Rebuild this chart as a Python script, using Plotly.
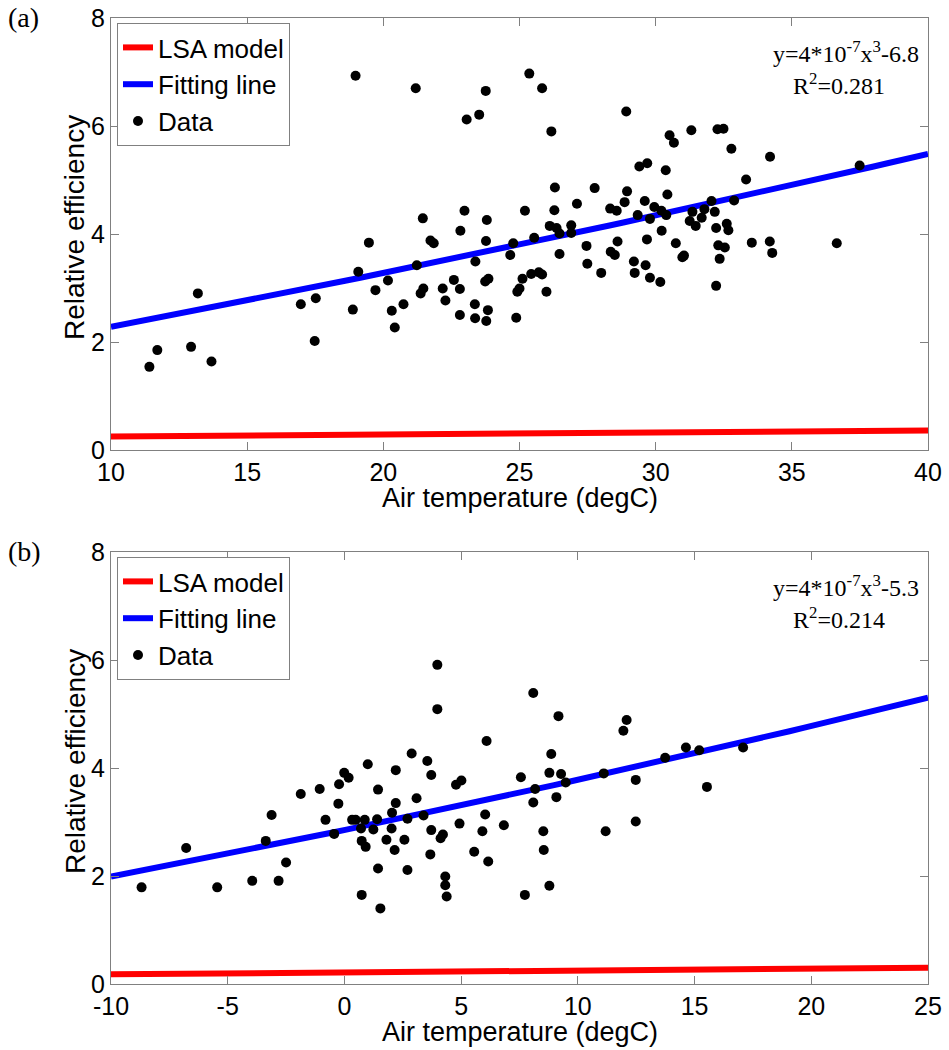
import numpy as np
import plotly.graph_objects as go

# ---- Panel (a): air temperature 10-40 degC ----
temp_a = [11.41, 11.70, 12.94, 13.69, 13.19, 16.97, 17.52, 17.48, 18.88, 19.08, 19.47, 19.71,
          18.98, 21.19, 23.76, 25.36, 25.83,
          23.06, 23.52, 26.17, 28.92, 29.40, 29.69, 26.30, 27.76, 28.95, 28.86, 29.60, 27.11,
          26.28, 25.20, 22.98, 21.45, 23.80, 22.83, 28.33, 28.57, 29.34, 29.79, 21.73, 21.85,
          23.77, 24.77, 25.54, 26.11, 26.36, 26.47, 26.90, 26.90, 27.46, 28.60, 28.35, 28.50,
          26.47, 24.66, 23.38, 21.23, 27.49, 28.00, 29.20, 29.63, 29.23, 29.79, 20.17, 20.74,
          20.31, 20.42, 21.47, 21.37, 22.18, 22.59, 22.81, 22.28, 22.81, 23.36, 23.37, 23.84,
          23.78, 23.74, 23.86, 24.88, 24.92, 25.00, 25.11, 25.43, 25.71, 25.83, 25.99, 29.68,
          30.51, 30.67, 31.31, 32.27, 32.49, 32.78, 34.20, 37.49, 30.37, 33.32, 30.43, 29.95,
          30.21, 30.39, 31.35, 31.25, 31.47, 31.79, 31.69, 32.05, 32.17, 32.88, 32.22, 32.61,
          32.67, 30.22, 30.74, 32.30, 32.54, 33.53, 34.19, 34.28, 36.65, 30.98, 31.04, 32.35,
          30.17, 32.22]
eff_a = [1.54, 1.85, 1.91, 1.64, 2.90, 2.70, 2.81, 2.02, 2.60, 3.30, 3.84, 2.96,
         6.93, 6.70, 6.65, 6.97, 6.70,
         6.12, 6.21, 5.90, 6.27, 5.25, 5.31, 4.86, 4.85, 4.79, 4.59, 4.61, 4.56,
         4.44, 4.43, 4.43, 4.29, 4.26, 4.06, 4.47, 4.43, 4.35, 4.28, 3.88, 3.83,
         3.87, 3.83, 3.93, 4.15, 4.11, 4.01, 4.16, 4.02, 3.78, 3.86, 3.67, 3.61,
         3.63, 3.61, 3.49, 3.42, 3.45, 3.28, 3.49, 3.42, 3.28, 3.19, 3.14, 2.70,
         2.58, 2.27, 2.99, 2.90, 2.99, 3.15, 2.98, 2.77, 2.50, 2.70, 2.44, 2.59,
         2.39, 3.12, 3.17, 2.45, 2.93, 2.99, 3.17, 3.26, 3.29, 3.25, 2.93, 3.90,
         5.83, 5.69, 5.92, 5.94, 5.95, 5.58, 5.43, 5.27, 5.18, 5.01, 4.73, 4.50,
         4.43, 4.35, 4.41, 4.24, 4.15, 4.46, 4.30, 4.61, 4.41, 4.62, 4.11, 4.19,
         4.07, 4.06, 3.83, 3.79, 3.75, 3.84, 3.86, 3.65, 3.83, 3.57, 3.60, 3.54,
         3.11, 3.04]
lsa_a_x = [10, 40]
lsa_a_y = [0.25, 0.36]
fit_a_coef, fit_a_const = 4e-7, -6.8

# ---- Panel (b): air temperature -10-25 degC ----
temp_b = [-8.69, -6.78, -5.45, -3.95, -3.37, -3.12, -2.82, -2.50, -1.87, -1.06, -0.81, -0.44,
          -0.26, -0.23, -0.01, 0.18, 1.00, 0.33, 0.48, 0.71, 0.87, 0.74, 0.91, 0.74, 1.24,
          1.44, 1.44, 1.54, 1.40,
          2.20, 2.04, 2.20, 2.02, 1.80, 2.15, 2.57, 2.70, 2.70, 2.88, 3.09, 3.39, 3.55, 3.72,
          3.72, 3.68, 3.98, 3.98, 4.12, 4.22, 4.32, 4.32, 4.38, 4.78, 5.01, 4.93, 5.56, 5.91,
          6.03, 6.09, 6.16, 6.83, 7.56, 7.73, 8.09, 8.17, 8.09, 8.52, 8.54, 8.78, 8.86, 8.78,
          9.17, 9.28, 9.48, 9.08, 11.11, 11.19, 11.95, 12.09, 12.48, 12.48,
          13.74, 14.63, 15.20, 15.53, 17.08]
eff_b = [1.79, 2.52, 1.79, 1.91, 2.65, 3.13, 1.91, 2.25, 3.52, 3.61, 3.04, 2.78,
         3.34, 3.70, 3.91, 3.82, 4.07, 3.04, 3.04, 2.88, 3.04, 2.65, 2.54, 1.65, 2.86,
         3.60, 2.14, 1.40, 3.05,
         3.96, 3.17, 3.35, 2.88, 2.67, 2.48, 2.67, 3.06, 2.11, 4.27, 3.44, 3.12, 4.13, 3.87,
         2.85, 2.40, 5.91, 5.09, 2.70, 2.77, 1.99, 1.83, 1.62, 3.69, 3.77, 2.97, 2.45, 2.83,
         3.14, 4.50, 2.27, 2.94, 3.83, 1.65, 5.39, 3.61, 3.36, 2.83, 2.48, 1.82, 4.26, 3.91,
         4.96, 3.89, 3.73, 3.46, 3.90, 2.83, 4.69, 4.89, 3.78, 3.01,
         4.19, 4.38, 4.33, 3.65, 4.38]
lsa_b_x = [-10, 25]
lsa_b_y = [0.18, 0.30]
fit_b_coef, fit_b_const = 4e-7, -5.3

x_ticks_a = [10, 15, 20, 25, 30, 35, 40]
x_ticks_b = [-10, -5, 0, 5, 10, 15, 20, 25]
y_ticks = [0, 2, 4, 6, 8]

W, H = 949, 1050
SANS = "Liberation Sans, Arial, sans-serif"
SERIF = "Liberation Serif, Times New Roman, serif"
AXIS_GRAY = "#808080"


def fit_curve(lo, hi, coef, const):
    # fitted relation uses absolute temperature: y = coef * T[K]^3 + const
    t = np.linspace(lo, hi, 60)
    return t, coef * (t + 273.15) ** 3 + const


def py(pix):
    return 1 - pix / H


def px(pix):
    return pix / W


fig = go.Figure()

panels = [
    dict(xa="x", ya="y", legend="legend", temp=temp_a, eff=eff_a, lsa_x=lsa_a_x, lsa_y=lsa_a_y,
         coef=fit_a_coef, const=fit_a_const, xr=[x_ticks_a[0], x_ticks_a[-1]]),
    dict(xa="x2", ya="y2", legend="legend2", temp=temp_b, eff=eff_b, lsa_x=lsa_b_x, lsa_y=lsa_b_y,
         coef=fit_b_coef, const=fit_b_const, xr=[x_ticks_b[0], x_ticks_b[-1]]),
]

for p in panels:
    fx, fy = fit_curve(p["xr"][0], p["xr"][1], p["coef"], p["const"])
    fig.add_trace(go.Scatter(x=p["lsa_x"], y=p["lsa_y"], mode="lines", name="LSA model",
                             line=dict(color="#ff0000", width=6),
                             xaxis=p["xa"], yaxis=p["ya"], legend=p["legend"]))
    fig.add_trace(go.Scatter(x=fx, y=fy, mode="lines", name="Fitting line",
                             line=dict(color="#0000ff", width=6),
                             xaxis=p["xa"], yaxis=p["ya"], legend=p["legend"]))
    fig.add_trace(go.Scatter(x=p["temp"], y=p["eff"], mode="markers", name="Data",
                             marker=dict(color="black", size=10),
                             xaxis=p["xa"], yaxis=p["ya"], legend=p["legend"]))

axis_common = dict(showline=True, linecolor=AXIS_GRAY, linewidth=1, mirror="ticks",
                   ticks="inside", ticklen=8, tickcolor=AXIS_GRAY, tickwidth=1,
                   showgrid=False, zeroline=False, automargin=False,
                   tickfont=dict(family=SANS, size=25, color="black"))

top_a, bot_a = 18, 450
top_b, bot_b = 552, 984
left, right = 111, 928

legend_common = dict(bgcolor="white", bordercolor=AXIS_GRAY, borderwidth=1,
                     font=dict(family=SANS, size=26, color="black"),
                     xanchor="left", yanchor="top", tracegroupgap=0,
                     itemwidth=30)


def tick_text(vals):
    # plain hyphen for negative labels
    return [str(v) for v in vals]


fig.update_layout(
    width=W, height=H,
    margin=dict(l=0, r=0, t=0, b=0, autoexpand=False),
    paper_bgcolor="white", plot_bgcolor="white",
    xaxis=dict(domain=[px(left), px(right)], anchor="y", range=x_ticks_a[::len(x_ticks_a) - 1],
               tickvals=x_ticks_a, ticktext=tick_text(x_ticks_a), **axis_common),
    yaxis=dict(domain=[py(bot_a), py(top_a)], anchor="x", range=[y_ticks[0], y_ticks[-1]],
               tickvals=y_ticks, ticktext=tick_text(y_ticks), **axis_common),
    xaxis2=dict(domain=[px(left), px(right)], anchor="y2", range=x_ticks_b[::len(x_ticks_b) - 1],
                tickvals=x_ticks_b, ticktext=tick_text(x_ticks_b), **axis_common),
    yaxis2=dict(domain=[py(bot_b), py(top_b)], anchor="x2", range=[y_ticks[0], y_ticks[-1]],
                tickvals=y_ticks, ticktext=tick_text(y_ticks), **axis_common),
    legend=dict(x=px(117), y=py(23), **legend_common),
    legend2=dict(x=px(117), y=py(557), **legend_common),
    showlegend=True,
)

annotations = []
for top, bot, tag, const, r2 in [(top_a, bot_a, "(a)", "-6.8", "0.281"),
                                 (top_b, bot_b, "(b)", "-5.3", "0.214")]:
    annotations += [
        dict(text=tag, x=px(6), y=py(top - 1), xanchor="left", yanchor="middle",
             font=dict(family=SERIF, size=28, color="black")),
        dict(text="y=4*10<sup>-7</sup>x<sup>3</sup>" + const, x=px(921), y=py(top + 34),
             xanchor="right", yanchor="middle", font=dict(family=SERIF, size=24, color="black")),
        dict(text="R<sup>2</sup>=" + r2, x=px(839), y=py(top + 66), xanchor="center",
             yanchor="middle", font=dict(family=SERIF, size=24, color="black")),
        dict(text="Air temperature (degC)", x=px((left + right) / 2), y=py(bot + 48),
             xanchor="center", yanchor="middle", font=dict(family=SANS, size=27, color="black")),
        dict(text="Relative efficiency", x=px(75), y=py((top + bot) / 2 - 6), textangle=-90,
             xanchor="center", yanchor="middle", font=dict(family=SANS, size=28, color="black")),
    ]
for a in annotations:
    a.update(xref="paper", yref="paper", showarrow=False)
fig.update_layout(annotations=annotations)

fig.write_html("out.html")
